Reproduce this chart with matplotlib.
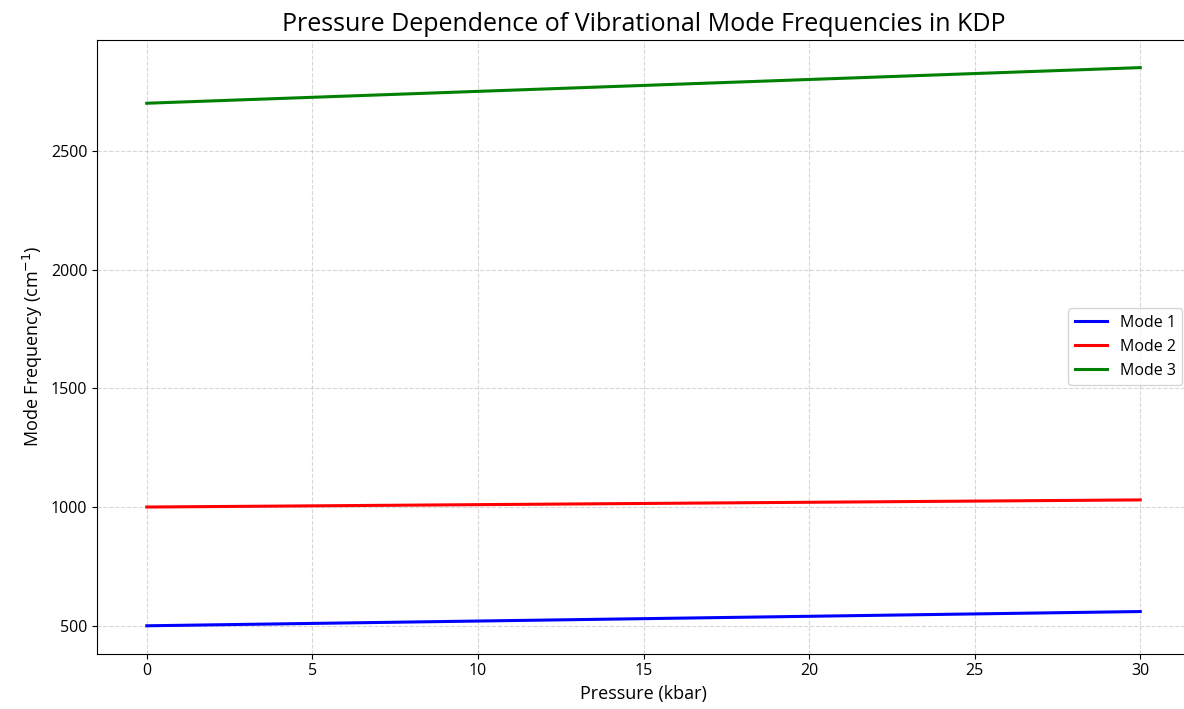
import numpy as np
import matplotlib.pyplot as plt

plt.rcParams['font.family'] = ['Open Sans', 'DejaVu Sans']

pressure = [0, 5, 10, 15, 20, 25, 30]          # kbar
mode1 = [500, 510, 520, 530, 540, 550, 560]    # cm^-1
mode2 = [1000, 1005, 1010, 1015, 1020, 1025, 1030]
mode3 = [2700, 2725, 2750, 2775, 2800, 2825, 2850]

fig, ax = plt.subplots(figsize=(11.84, 7.09), dpi=100)

ax.plot(pressure, mode1, color='blue', linewidth=2.2, label='Mode 1')
ax.plot(pressure, mode2, color='red', linewidth=2.2, label='Mode 2')
ax.plot(pressure, mode3, color='green', linewidth=2.2, label='Mode 3')

ax.set_xlabel('Pressure (kbar)', fontsize=13)
ax.set_ylabel('Mode Frequency (cm$^{-1}$)', fontsize=13)
ax.set_title('Pressure Dependence of Vibrational Mode Frequencies in KDP', fontsize=18)
ax.set_yticks([500, 1000, 1500, 2000, 2500])
ax.tick_params(labelsize=11.5)
ax.legend(loc='center right', fontsize=11.5)
ax.grid(True, linestyle='--', alpha=0.5)

fig.subplots_adjust(left=0.082, right=1.005, top=0.944, bottom=0.078)
plt.savefig('out.png', dpi=100)
